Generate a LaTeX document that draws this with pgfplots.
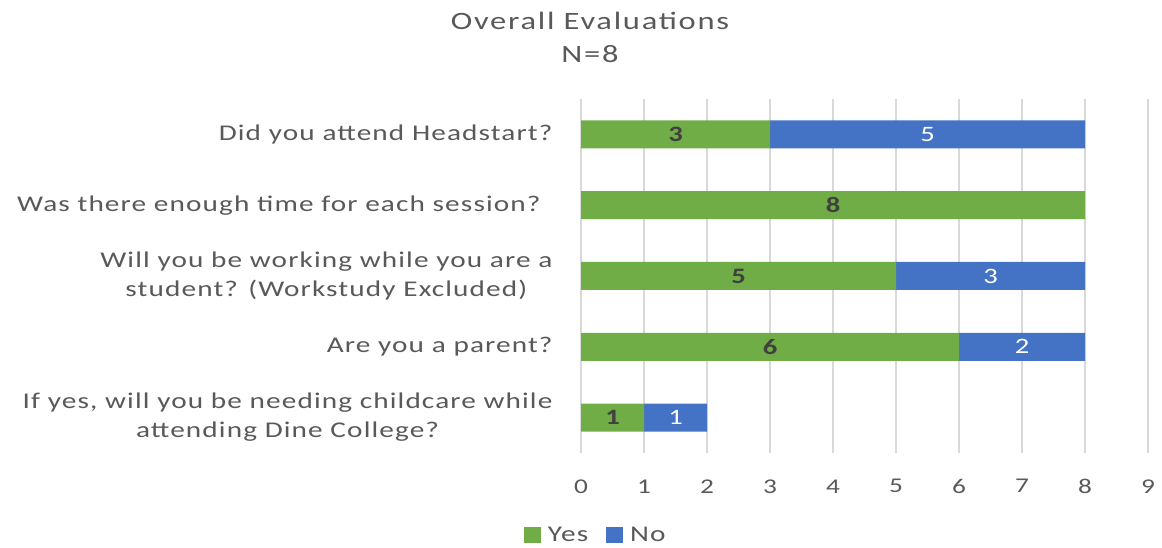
\documentclass[border=0pt]{standalone}
\usepackage{fontspec}
\setmainfont{Carlito}[FakeStretch=1.3, LetterSpace=5]
\newfontfamily\titlefont{Carlito}[FakeStretch=1.3, LetterSpace=7]
\usepackage{pgfplots}
\pgfplotsset{compat=1.18}
\definecolor{yesgreen}{HTML}{70AD47}
\definecolor{noblue}{HTML}{4472C4}
\definecolor{txtgrey}{HTML}{595959}
\definecolor{gridgrey}{HTML}{D9D9D9}

\begin{document}
\begin{tikzpicture}
\path[use as bounding box] (0,0) rectangle (1162bp,548bp);
\node[txtgrey, align=center, font=\titlefont\fontsize{25bp}{33bp}\selectfont] at (590bp,511bp)
  {Overall Evaluations\\N=8};
\begin{axis}[
    at={(581bp,95bp)}, anchor=south west,
    scale only axis, width=567bp, height=354bp,
    xbar stacked, bar width=28bp,
    xmin=0, xmax=9, ymin=-0.5, ymax=4.5,
    xtick={0,...,9}, ytick={0,1,2,3,4},
    yticklabels={{If yes, will you be needing childcare while\\attending Dine College?},
                 {Are you a parent?},
                 {Will you be working while you are a\\student? (Workstudy Excluded)},
                 {Was there enough time for each session?\hspace*{12bp}},
                 {Did you attend Headstart?}},
    yticklabel style={align=center, font=\fontsize{22.5bp}{29bp}\selectfont, text=txtgrey, xshift=-25bp},
    xticklabel style={font=\fontsize{21bp}{25bp}\selectfont, text=txtgrey, yshift=-23bp},
    /pgf/number format/assume math mode=true,
    major tick length=0pt,
    xmajorgrids, major grid style={gridgrey, line width=1.5bp},
    axis line style={draw=none},
    axis x line*=bottom, axis y line*=left,
    legend columns=2,
    legend style={draw=none, at={(0.026,-0.232)}, anchor=center,
      font=\fontsize{22.5bp}{25bp}\selectfont, text=txtgrey,
      /tikz/every even column/.append style={column sep=16bp}},
    legend image code/.code={\fill[#1] (0bp,-8bp) rectangle (17bp,8bp); \path (22bp,0bp);},
    nodes near coords={\pgfmathfloatifflags{\pgfplotspointmeta}{0}{}{\pgfmathprintnumber{\pgfplotspointmeta}}},
    every node near coord/.append style={font=\fontsize{22bp}{25bp}\selectfont},
]
\addplot[fill=yesgreen, draw=none, nodes near coords style={text=black!75, font=\fontsize{22bp}{25bp}\selectfont\bfseries}]
  coordinates {(1,0) (6,1) (5,2) (8,3) (3,4)};
\addlegendentry{Yes}
\addplot[fill=noblue, draw=none, nodes near coords style={text=white}]
  coordinates {(1,0) (2,1) (3,2) (0,3) (5,4)};
\addlegendentry{No}
\end{axis}
\end{tikzpicture}
\end{document}
